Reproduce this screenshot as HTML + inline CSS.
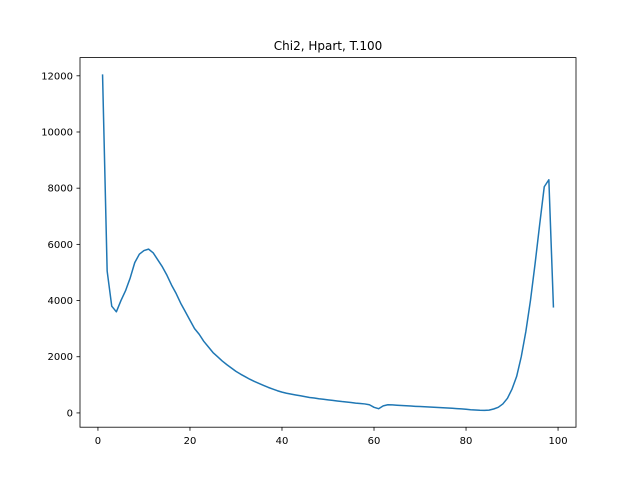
<!DOCTYPE html>
<html><head><meta charset="utf-8"><style>
html,body{margin:0;padding:0;background:#fff;}
svg text{font-family:"DejaVu Sans","Liberation Sans",sans-serif;font-size:10px;fill:#000;}
</style></head><body>
<svg id="chart" width="640" height="480" viewBox="0 0 640 480" xmlns="http://www.w3.org/2000/svg">
<rect width="640" height="480" fill="#fff"/>
<text x="328" y="50" text-anchor="middle" style="font-size:12px">Chi2, Hpart, T.100</text>
<g id="xaxis"></g>
<g id="yaxis"></g>
<path id="line" fill="none" stroke="#1f77b4" stroke-width="1.5" stroke-linejoin="round"/>
<rect x="80" y="57.6" width="496" height="369.6" fill="none" stroke="#000" stroke-width="0.8"/>
</svg>
<script>
const xValues = [];
for (let i = 1; i <= 99; i++) xValues.push(i);
const yValues = [12050,5050,3800,3600,4000,4350,4800,5350,5650,5780,5830,5700,5450,5200,4900,4550,4250,3900,3600,3300,3000,2800,2550,2350,2150,2000,1850,1720,1600,1480,1380,1290,1200,1120,1050,980,910,850,790,740,700,670,640,610,580,550,530,505,485,465,445,425,405,390,370,350,335,320,290,200,150,250,290,285,275,265,255,245,235,228,220,210,200,192,185,175,165,155,145,130,115,105,95,90,100,140,200,320,520,850,1300,2000,2900,4000,5300,6700,8050,8300,3750];
const xTicks = [0,20,40,60,80,100];
const yTicks = [0,2000,4000,6000,8000,10000,12000];

const L=80,R=576,T=57.6,B=427.2;
const xmin=Math.min(...xValues),xmax=Math.max(...xValues);
const ymin=Math.min(...yValues),ymax=Math.max(...yValues);
const xlo=xmin-(xmax-xmin)*0.05,xhi=xmax+(xmax-xmin)*0.05;
const ylo=ymin-(ymax-ymin)*0.05,yhi=ymax+(ymax-ymin)*0.05;
const sx=v=>L+(v-xlo)/(xhi-xlo)*(R-L);
const sy=v=>B-(v-ylo)/(yhi-ylo)*(B-T);
const NS="http://www.w3.org/2000/svg";
const xa=document.getElementById('xaxis'),ya=document.getElementById('yaxis');
xTicks.forEach(t=>{
  const x=sx(t);
  const l=document.createElementNS(NS,'line');
  
  
  l.setAttribute('x1',x);l.setAttribute('x2',x);l.setAttribute('y1',B);l.setAttribute('y2',B+3.5);
  l.setAttribute('stroke','#000');l.setAttribute('stroke-width','0.8');
  xa.appendChild(l);
  const tx=document.createElementNS(NS,'text');
  
  
  tx.setAttribute('x',x);tx.setAttribute('y',B+17);tx.setAttribute('text-anchor','middle');
  tx.textContent=t;xa.appendChild(tx);
});
yTicks.forEach(t=>{
  const y=sy(t);
  const l=document.createElementNS(NS,'line');
  
  
  l.setAttribute('x1',L-3.5);l.setAttribute('x2',L);l.setAttribute('y1',y);l.setAttribute('y2',y);
  l.setAttribute('stroke','#000');l.setAttribute('stroke-width','0.8');
  ya.appendChild(l);
  const tx=document.createElementNS(NS,'text');
  
  
  tx.setAttribute('x',L-7);tx.setAttribute('y',y+3.5);tx.setAttribute('text-anchor','end');
  tx.textContent=t;ya.appendChild(tx);
});
document.getElementById('line').setAttribute('d',xValues.map((x,i)=>(i?'L':'M')+sx(x).toFixed(2)+','+sy(yValues[i]).toFixed(2)).join(''));
</script>
</body></html>
